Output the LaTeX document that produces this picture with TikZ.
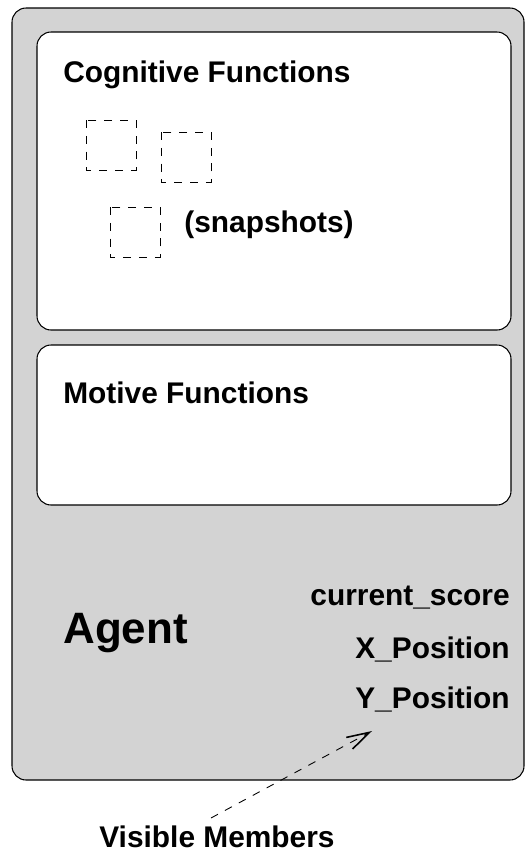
\documentclass[tikz,border=0pt]{standalone}
\usepackage{fontspec}
\setmainfont{Liberation Sans}
\usetikzlibrary{arrows.meta}

\tikzset{
  panel/.style={draw, line width=0.6pt, rounded corners=8pt},
  snapbox/.style={draw, dashed, dash pattern=on 4.5pt off 4.5pt, line width=0.5pt},
  title/.style={font=\fontsize{17}{20}\selectfont\bfseries, anchor=base west, inner sep=0pt},
  member/.style={font=\fontsize{17}{20}\selectfont\bfseries, anchor=base east, inner sep=0pt},
}

\begin{document}
\begin{tikzpicture}[x=0.02cm, y=-0.02cm]
  \useasboundingbox (0,0) rectangle (526,859);
  % Agent panel
  \draw[panel, fill={rgb,255:red,211;green,211;blue,211}] (12,8) rectangle (524,780);
  % Inner panels
  \draw[panel, fill=white] (37,32) rectangle (511,330);
  \draw[panel, fill=white] (37,345) rectangle (511,505);
  % Titles
  \node[title] (cog) at (63,82) {Cognitive Functions};
  \node[title] (mot) at (63,403) {Motive Functions};
  % Snapshots
  \draw[snapbox] (86,120) rectangle (136,170);
  \draw[snapbox] (161,132) rectangle (211,182);
  \draw[snapbox] (110,207) rectangle (160,257);
  \node[title] (snap) at (184,232) {(snapshots)};
  % Agent label and members
  \node[title, font=\fontsize{25}{30}\selectfont\bfseries] (agent) at (63,643) {Agent};
  \node[member] (score) at (510,605) {current\_score};
  \node[member] (xpos) at (510,658) {X\_Position};
  \node[member] (ypos) at (510,708) {Y\_Position};
  % Visible members
  \node[title] (vis) at (99,847) {Visible Members};
  \coordinate (vtail) at (211,818);
  \coordinate (vtip) at (372,731);
  \draw[dashed, dash pattern=on 4.5pt off 4.5pt, line width=0.5pt, -{Straight Barb[length=13pt, width=7.5pt, line width=0.9pt]}] (vtail) -- (vtip);
\end{tikzpicture}
\end{document}
